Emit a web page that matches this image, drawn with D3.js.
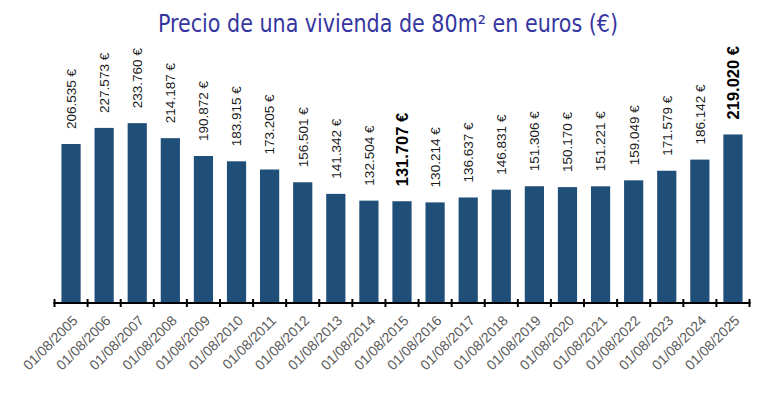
<!DOCTYPE html>
<html>
<head>
<meta charset="utf-8">
<script src="https://cdn.jsdelivr.net/npm/d3@7"></script>
<style>
  body { margin: 0; background: #fff; }
  svg { display: block; }
</style>
</head>
<body>
<div id="chart"></div>
<script>
// data
const fechas = ['01/08/2005', '01/08/2006', '01/08/2007', '01/08/2008', '01/08/2009',
  '01/08/2010', '01/08/2011', '01/08/2012', '01/08/2013', '01/08/2014', '01/08/2015',
  '01/08/2016', '01/08/2017', '01/08/2018', '01/08/2019', '01/08/2020', '01/08/2021',
  '01/08/2022', '01/08/2023', '01/08/2024', '01/08/2025'];
const precios = [206535, 227573, 233760, 214187, 190872, 183915, 173205, 156501, 141342,
  132504, 131707, 130214, 136637, 146831, 151306, 150170, 151221, 159049, 171579,
  186142, 219020];
const destacados = ['01/08/2015', '01/08/2025'];
const titulo = 'Precio de una vivienda de 80m² en euros (€)';

const width = 779, height = 393;
const left = 54.5, right = 749.5, base = 302;

const es = d3.formatLocale({ decimal: ',', thousands: '.', grouping: [3], currency: ['', ' €'] });
const fmt = es.format(',.0f');

const svg = d3.select('#chart').append('svg')
  .attr('width', width)
  .attr('height', height);

// title
svg.append('text')
  .attr('x', 388)
  .attr('y', 32)
  .attr('text-anchor', 'middle')
  .attr('textLength', 460)
  .attr('lengthAdjust', 'spacingAndGlyphs')
  .style('font-family', "'Liberation Sans Narrow', 'DejaVu Sans Condensed', 'Arial Narrow', sans-serif")
  .style('font-size', '24px')
  .style('fill', '#3535a0')
  .text(titulo);

const x = d3.scaleBand()
  .domain(fechas)
  .range([left, right])
  .paddingInner(0.42)
  .paddingOuter(0.21);

const y = d3.scaleLinear()
  .domain([0, 260000])
  .range([base, base - 260000 * 0.000765]);

const rows = fechas.map((f, i) => ({ fecha: f, precio: precios[i], bold: destacados.includes(f) }));

// bars
svg.selectAll('rect.bar')
  .data(rows)
  .enter()
  .append('rect')
  .attr('class', 'bar')
  .attr('x', d => x(d.fecha))
  .attr('y', d => y(d.precio))
  .attr('width', x.bandwidth())
  .attr('height', d => y(0) - y(d.precio))
  .style('fill', '#1f4e79');

// value labels, rotated
svg.selectAll('text.val')
  .data(rows)
  .enter()
  .append('text')
  .attr('class', 'val')
  .attr('transform', d => 'translate(' + (x(d.fecha) + x.bandwidth() / 2) + ',' + (y(d.precio) - 15) + ') rotate(-90)')
  .attr('dy', '0.36em')
  .attr('text-anchor', 'start')
  .style('font-family', "'Liberation Sans', Arial, sans-serif")
  .style('font-size', d => d.bold ? '16.5px' : '13.5px')
  .style('font-weight', d => d.bold ? 'bold' : 'normal')
  .style('fill', d => d.bold ? '#000' : '#1a1a1a')
  .text(d => fmt(d.precio) + ' €');

// axis line and ticks at band edges
const axis = svg.append('g');
axis.append('line')
  .attr('x1', left - 1)
  .attr('x2', right + 1)
  .attr('y1', base + 1)
  .attr('y2', base + 1)
  .style('stroke', '#000')
  .style('stroke-width', 2);

const edges = d3.range(fechas.length + 1).map(i => left + i * x.step());
axis.selectAll('line.tick')
  .data(edges)
  .enter()
  .append('line')
  .attr('class', 'tick')
  .attr('x1', d => d)
  .attr('x2', d => d)
  .attr('y1', base - 3)
  .attr('y2', base + 5)
  .style('stroke', '#000')
  .style('stroke-width', 2);

// date labels
svg.selectAll('text.fecha')
  .data(fechas)
  .enter()
  .append('text')
  .attr('class', 'fecha')
  .attr('transform', d => 'translate(' + (x(d) + x.bandwidth() / 2 + 4) + ',' + (base + 16) + ') rotate(-45)')
  .attr('dy', '0.35em')
  .attr('text-anchor', 'end')
  .style('font-family', "'Liberation Sans', Arial, sans-serif")
  .style('font-size', '14px')
  .style('fill', '#595959')
  .text(d => d);
</script>
</body>
</html>
